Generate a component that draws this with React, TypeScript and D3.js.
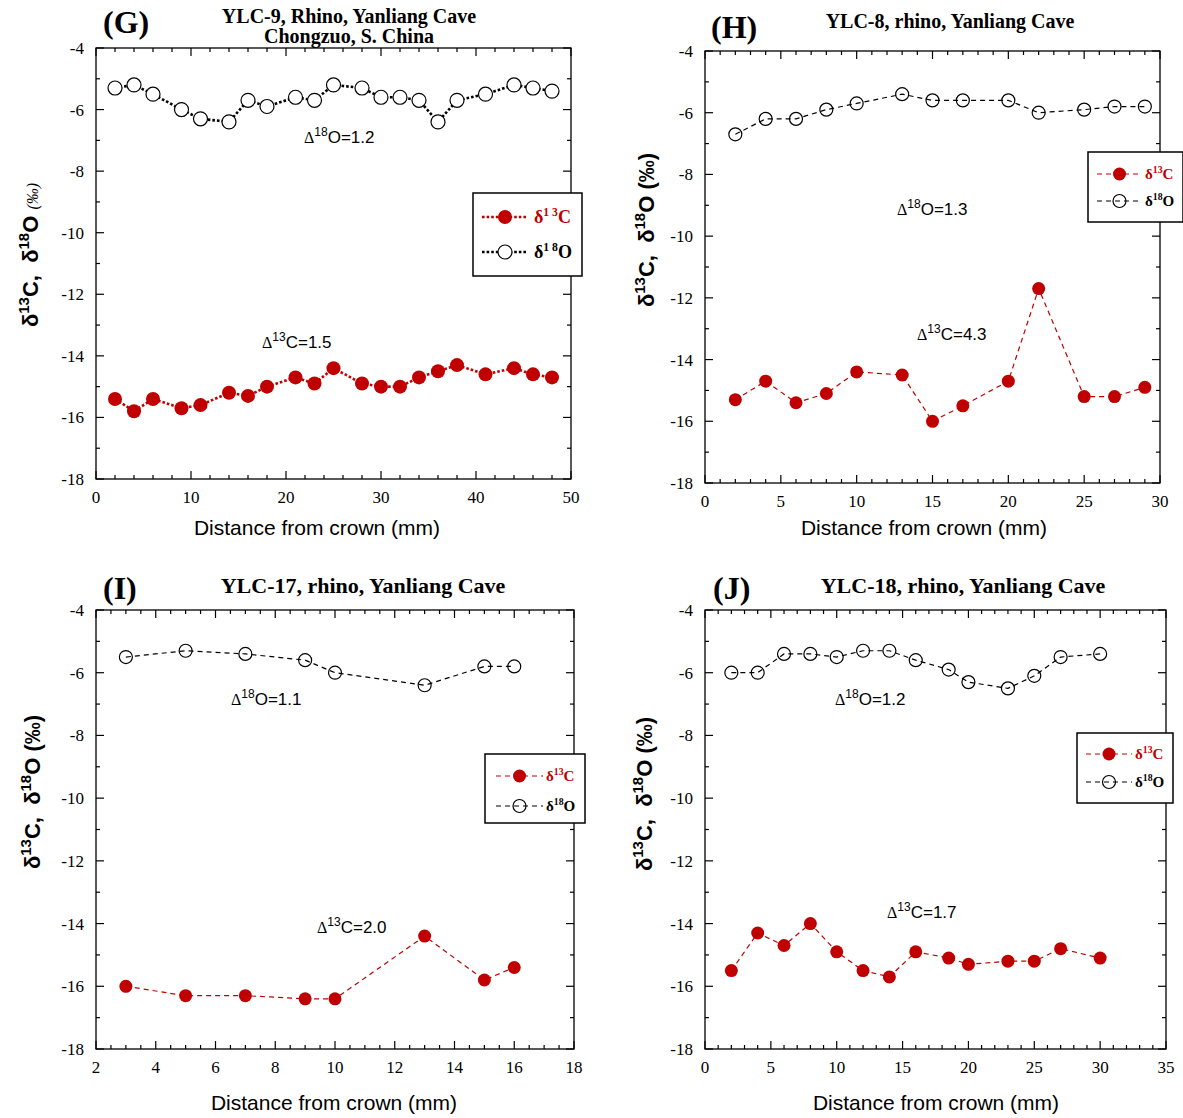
import React from "react";
import * as d3 from "d3";

const SERIF = "'Liberation Serif', 'Times New Roman', serif";
const SANS = "'Liberation Sans', Arial, sans-serif";
const RED = "#c00000";

// (G) YLC-9
const gDist = [2, 4, 6, 9, 11, 14, 16, 18, 21, 23, 25, 28, 30, 32, 34, 36, 38, 41, 44, 46, 48];
const gC13 = [-15.4, -15.8, -15.4, -15.7, -15.6, -15.2, -15.3, -15.0, -14.7, -14.9, -14.4, -14.9, -15.0, -15.0, -14.7, -14.5, -14.3, -14.6, -14.4, -14.6, -14.7];
const gO18 = [-5.3, -5.2, -5.5, -6.0, -6.3, -6.4, -5.7, -5.9, -5.6, -5.7, -5.2, -5.3, -5.6, -5.6, -5.7, -6.4, -5.7, -5.5, -5.2, -5.3, -5.4];

// (H) YLC-8
const hDist = [2, 4, 6, 8, 10, 13, 15, 17, 20, 22, 25, 27, 29];
const hC13 = [-15.3, -14.7, -15.4, -15.1, -14.4, -14.5, -16.0, -15.5, -14.7, -11.7, -15.2, -15.2, -14.9];
const hO18 = [-6.7, -6.2, -6.2, -5.9, -5.7, -5.4, -5.6, -5.6, -5.6, -6.0, -5.9, -5.8, -5.8];

// (I) YLC-17
const iDist = [3, 5, 7, 9, 10, 13, 15, 16];
const iC13 = [-16.0, -16.3, -16.3, -16.4, -16.4, -14.4, -15.8, -15.4];
const iO18 = [-5.5, -5.3, -5.4, -5.6, -6.0, -6.4, -5.8, -5.8];

// (J) YLC-18
const jDist = [2, 4, 6, 8, 10, 12, 14, 16, 18.5, 20, 23, 25, 27, 30];
const jC13 = [-15.5, -14.3, -14.7, -14.0, -14.9, -15.5, -15.7, -14.9, -15.1, -15.3, -15.2, -15.2, -14.8, -15.1];
const jO18 = [-6.0, -6.0, -5.4, -5.4, -5.5, -5.3, -5.3, -5.6, -5.9, -6.3, -6.5, -6.1, -5.5, -5.4];

const yDomain = [-18, -4];

const panels = [
  {
    key: "G", letter: "(G)", letterX: 103, letterY: 33,
    titles: ["YLC-9, Rhino, Yanliang Cave", "Chongzuo, S. China"], titleSize: 20, titleX: 349, titleYs: [23, 43],
    box: { l: 96, r: 571, t: 48, b: 479 },
    xDomain: [0, 50], xMajor: 10, xMinor: 2,
    dist: gDist, c13: gC13, o18: gO18,
    dotted: true, rad: 7,
    dO: { val: "1.2", x: 304, y: 143 }, dC: { val: "1.5", x: 262, y: 348 },
    legend: { x: 473, y: 193, w: 109, h: 83, rows: [217, 252], lx: [482, 528], tx: 534, size: 18, sup: "1\u00a03", sup2: "1\u00a08" },
    yLab: { x: 38, y: 255, serifUnit: true },
    xTitle: { x: 317, y: 535 },
  },
  {
    key: "H", letter: "(H)", letterX: 711, letterY: 38,
    titles: ["YLC-8, rhino, Yanliang Cave"], titleSize: 20, titleX: 950, titleYs: [28],
    box: { l: 705, r: 1160, t: 51, b: 483 },
    xDomain: [0, 30], xMajor: 5, xMinor: 1,
    dist: hDist, c13: hC13, o18: hO18,
    dotted: false, rad: 6.5,
    dO: { val: "1.3", x: 897, y: 215 }, dC: { val: "4.3", x: 917, y: 340 },
    legend: { x: 1088, y: 152, w: 95, h: 70, rows: [174, 201], lx: [1097, 1142], tx: 1145, size: 15, sup: "13", sup2: "18" },
    yLab: { x: 654, y: 230, serifUnit: false },
    xTitle: { x: 924, y: 535 },
  },
  {
    key: "I", letter: "(I)", letterX: 103, letterY: 599,
    titles: ["YLC-17, rhino, Yanliang Cave"], titleSize: 22, titleX: 363, titleYs: [593],
    box: { l: 96, r: 574, t: 610, b: 1049 },
    xDomain: [2, 18], xMajor: 2, xMinor: 0.5,
    dist: iDist, c13: iC13, o18: iO18,
    dotted: false, rad: 6.5,
    dO: { val: "1.1", x: 231, y: 705 }, dC: { val: "2.0", x: 317, y: 933 },
    legend: { x: 485, y: 754, w: 100, h: 69, rows: [776, 806], lx: [496, 543], tx: 546, size: 15, sup: "13", sup2: "18" },
    yLab: { x: 40, y: 792, serifUnit: false },
    xTitle: { x: 334, y: 1110 },
  },
  {
    key: "J", letter: "(J)", letterX: 713, letterY: 599,
    titles: ["YLC-18, rhino, Yanliang Cave"], titleSize: 22, titleX: 963, titleYs: [593],
    box: { l: 705, r: 1166, t: 610, b: 1049 },
    xDomain: [0, 35], xMajor: 5, xMinor: 1,
    dist: jDist, c13: jC13, o18: jO18,
    dotted: false, rad: 6.5,
    dO: { val: "1.2", x: 835, y: 705 }, dC: { val: "1.7", x: 887, y: 918 },
    legend: { x: 1077, y: 733, w: 96, h: 70, rows: [754, 782], lx: [1086, 1132], tx: 1135, size: 15, sup: "13", sup2: "18" },
    yLab: { x: 652, y: 794, serifUnit: false },
    xTitle: { x: 936, y: 1110 },
  },
];

const Panel = ({ p }) => {
  const { box } = p;
  const x = d3.scaleLinear().domain(p.xDomain).range([box.l, box.r]);
  const y = d3.scaleLinear().domain(yDomain).range([box.b, box.t]);
  const eps = 1e-6;
  const xMaj = d3.range(p.xDomain[0], p.xDomain[1] + eps, p.xMajor);
  const xMin = d3.range(p.xDomain[0], p.xDomain[1] + eps, p.xMinor).filter((v) => !xMaj.some((m) => Math.abs(m - v) < eps));
  const yMaj = d3.range(yDomain[0], yDomain[1] + eps, 2);
  const yMin = d3.range(yDomain[0], yDomain[1] + eps, 1).filter((v) => !yMaj.includes(v));

  const pts = (vals) => p.dist.map((d, i) => [x(d), y(vals[i])]);
  const line = d3.line();
  const lw = p.dotted ? 2.6 : 1.2;
  const dash = p.dotted ? "2.6,2" : "5,4";
  const L = p.legend;
  const supOff = p.dotted ? 7 : 6;

  return (
    <g>
      {/* frame + ticks */}
      <rect x={box.l} y={box.t} width={box.r - box.l} height={box.b - box.t} fill="none" stroke="#000" strokeWidth={1.3} />
      {xMaj.map((v) => (
        <g key={"xM" + v}>
          <line x1={x(v)} x2={x(v)} y1={box.b} y2={box.b - 8} stroke="#000" strokeWidth={1.2} />
          <line x1={x(v)} x2={x(v)} y1={box.t} y2={box.t + 8} stroke="#000" strokeWidth={1.2} />
          <text x={x(v)} y={box.b + 24} textAnchor="middle" fontFamily={SERIF} fontSize={17}>{v}</text>
        </g>
      ))}
      {xMin.map((v) => (
        <g key={"xm" + v}>
          <line x1={x(v)} x2={x(v)} y1={box.b} y2={box.b - 4} stroke="#000" strokeWidth={1.2} />
          <line x1={x(v)} x2={x(v)} y1={box.t} y2={box.t + 4} stroke="#000" strokeWidth={1.2} />
        </g>
      ))}
      {yMaj.map((v) => (
        <g key={"yM" + v}>
          <line x1={box.l} x2={box.l + 8} y1={y(v)} y2={y(v)} stroke="#000" strokeWidth={1.2} />
          <line x1={box.r} x2={box.r - 8} y1={y(v)} y2={y(v)} stroke="#000" strokeWidth={1.2} />
          <text x={box.l - 12} y={y(v) + 6} textAnchor="end" fontFamily={SERIF} fontSize={17}>{String(v)}</text>
        </g>
      ))}
      {yMin.map((v) => (
        <g key={"ym" + v}>
          <line x1={box.l} x2={box.l + 4} y1={y(v)} y2={y(v)} stroke="#000" strokeWidth={1.2} />
          <line x1={box.r} x2={box.r - 4} y1={y(v)} y2={y(v)} stroke="#000" strokeWidth={1.2} />
        </g>
      ))}

      {/* series */}
      <path d={line(pts(p.o18))} fill="none" stroke="#000" strokeWidth={lw} strokeDasharray={dash} />
      <path d={line(pts(p.c13))} fill="none" stroke={RED} strokeWidth={lw} strokeDasharray={dash} />
      {pts(p.o18).map(([cx, cy], i) => (
        <circle key={"o" + i} cx={cx} cy={cy} r={p.rad} fill={p.dotted ? "#fff" : "none"} stroke="#000" strokeWidth={1.2} />
      ))}
      {pts(p.c13).map(([cx, cy], i) => (
        <circle key={"c" + i} cx={cx} cy={cy} r={p.rad} fill={RED} />
      ))}

      {/* annotations */}
      <text x={p.dO.x} y={p.dO.y} fontFamily={SANS} fontSize={17}>
        <tspan fontFamily={SERIF} fontSize={16}>Δ</tspan>
        <tspan fontSize={12} dy={-7}>18</tspan>
        <tspan dy={7}>O={p.dO.val}</tspan>
      </text>
      <text x={p.dC.x} y={p.dC.y} fontFamily={SANS} fontSize={17}>
        <tspan fontFamily={SERIF} fontSize={16}>Δ</tspan>
        <tspan fontSize={12} dy={-7}>13</tspan>
        <tspan dy={7}>C={p.dC.val}</tspan>
      </text>

      {/* legend */}
      <rect x={L.x} y={L.y} width={L.w} height={L.h} fill="#fff" stroke="#000" strokeWidth={1.5} />
      <line x1={L.lx[0]} x2={L.lx[1]} y1={L.rows[0]} y2={L.rows[0]} stroke={RED} strokeWidth={lw} strokeDasharray={dash} />
      <circle cx={(L.lx[0] + L.lx[1]) / 2} cy={L.rows[0]} r={p.rad} fill={RED} />
      <line x1={L.lx[0]} x2={L.lx[1]} y1={L.rows[1]} y2={L.rows[1]} stroke="#000" strokeWidth={lw} strokeDasharray={dash} />
      <circle cx={(L.lx[0] + L.lx[1]) / 2} cy={L.rows[1]} r={p.rad} fill={p.dotted ? "#fff" : "none"} stroke="#000" strokeWidth={1.2} />
      <text x={L.tx} y={L.rows[0] + L.size * 0.35} fontFamily={SERIF} fontWeight="bold" fontSize={L.size} fill={RED}>
        δ<tspan fontSize={L.size * 0.65} dy={-supOff}>{L.sup}</tspan><tspan dy={supOff}>C</tspan>
      </text>
      <text x={L.tx} y={L.rows[1] + L.size * 0.35} fontFamily={SERIF} fontWeight="bold" fontSize={L.size} fill="#000">
        δ<tspan fontSize={L.size * 0.65} dy={-supOff}>{L.sup2}</tspan><tspan dy={supOff}>O</tspan>
      </text>

      {/* titles */}
      <text x={p.letterX} y={p.letterY} fontFamily={SERIF} fontWeight="bold" fontSize={32}>{p.letter}</text>
      {p.titles.map((t, i) => (
        <text key={t} x={p.titleX} y={p.titleYs[i]} textAnchor="middle" fontFamily={SERIF} fontWeight="bold" fontSize={p.titleSize}>{t}</text>
      ))}

      {/* axis titles */}
      <text x={p.xTitle.x} y={p.xTitle.y} textAnchor="middle" fontFamily={SANS} fontSize={21}>Distance from crown (mm)</text>
      <text transform={`translate(${p.yLab.x},${p.yLab.y}) rotate(-90)`} textAnchor="middle" fontFamily={SANS} fontWeight="bold" fontSize={22}>
        δ<tspan fontSize={15} dy={-9}>13</tspan><tspan dy={9}>C,{"\u00a0\u00a0"}δ</tspan><tspan fontSize={15} dy={-9}>18</tspan><tspan dy={9}>O{"\u00a0"}</tspan>
        {p.yLab.serifUnit ? (
          <tspan fontFamily={SERIF} fontWeight="normal" fontStyle="italic" fontSize={16}>(‰)</tspan>
        ) : (
          <tspan>(‰)</tspan>
        )}
      </text>
    </g>
  );
};

const App = () => (
  <svg width={1183} height={1118} style={{ position: "absolute", left: 0, top: 0, background: "#fff" }}>
    {panels.map((p) => (
      <Panel key={p.key} p={p} />
    ))}
  </svg>
);

export default App;
